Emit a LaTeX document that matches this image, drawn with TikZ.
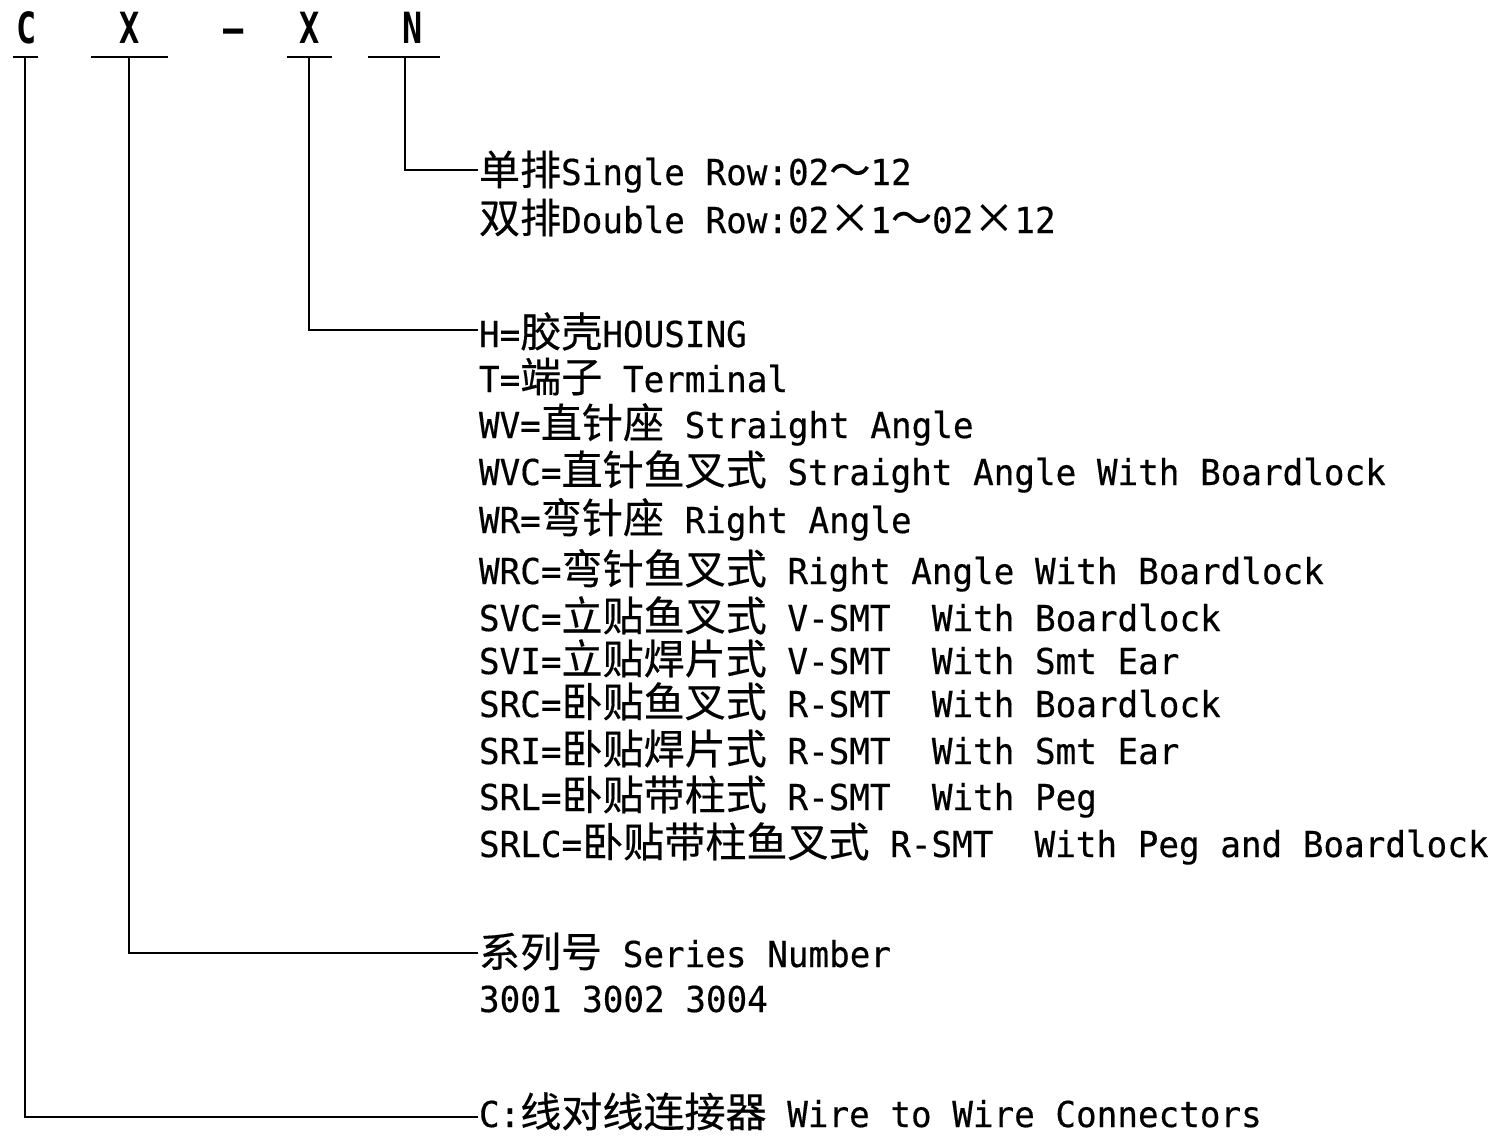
\documentclass[tikz,border=0pt]{standalone}
\usepackage{fontspec}
\setmainfont{DejaVu Sans Mono}[FakeStretch=0.96,FakeBold=0.4]
\newfontfamily\hdrfont{DejaVu Sans Mono Bold}[FakeStretch=0.78]
\newfontfamily\cjk{Noto Sans CJK SC}[Scale=1.15,FakeBold=0.4]
\newcommand{\zh}[1]{{\cjk #1}}
\begin{document}
\begin{tikzpicture}[x=1pt,y=-1pt,line width=2pt,
  txt/.style={anchor=base west,inner sep=0pt,font=\fontsize{35.7}{40}\selectfont},
  hdr/.style={anchor=base,inner sep=0pt,font=\hdrfont\fontsize{43}{44}\selectfont}]
\useasboundingbox (0,0) rectangle (1499,1136);
% header letters
\node[hdr] (hC)  at (27,43)  {C};
\node[hdr] (hX1) at (130,43) {X};
\node[hdr] (hD)  at (234,43) {–};
\node[hdr] (hX2) at (310,43) {X};
\node[hdr] (hN)  at (413,43) {N};
% underline points
\coordinate (uC)  at (25,56.7);
\coordinate (uX1) at (129.3,56.7);
\coordinate (uX2) at (309,56.7);
\coordinate (uN)  at (405,56.7);
\draw (12.7,56.7) -- (37.7,56.7);
\draw (90.7,56.7) -- (167.7,56.7);
\draw (286.7,56.7) -- (331.7,56.7);
\draw (368,56.7) -- (440,56.7);
% text rows
\node[txt] (n1) at (478,185) {\zh{单排}Single Row:02\zh{～}12};
\node[txt] (n2) at (478,233) {\zh{双排}Double Row:02\zh{×}1\zh{～}02\zh{×}12};
\node[txt] (h1) at (478,347) {H=\zh{胶壳}HOUSING};
\node[txt] (h2) at (478,392) {T=\zh{端子} Terminal};
\node[txt] (h3) at (478,438) {WV=\zh{直针座} Straight Angle};
\node[txt] (h4) at (478,485) {WVC=\zh{直针鱼叉式} Straight Angle With Boardlock};
\node[txt] (h5) at (478,533) {WR=\zh{弯针座} Right Angle};
\node[txt] (h6) at (478,584) {WRC=\zh{弯针鱼叉式} Right Angle With Boardlock};
\node[txt] (h7) at (478,631) {SVC=\zh{立贴鱼叉式} V-SMT\ \ With Boardlock};
\node[txt] (h8) at (478,674) {SVI=\zh{立贴焊片式} V-SMT\ \ With Smt Ear};
\node[txt] (h9) at (478,717) {SRC=\zh{卧贴鱼叉式} R-SMT\ \ With Boardlock};
\node[txt] (h10) at (478,764) {SRI=\zh{卧贴焊片式} R-SMT\ \ With Smt Ear};
\node[txt] (h11) at (478,810) {SRL=\zh{卧贴带柱式} R-SMT\ \ With Peg};
\node[txt] (h12) at (478,857) {SRLC=\zh{卧贴带柱鱼叉式} R-SMT\ \ With Peg and Boardlock};
\node[txt] (s1) at (478,967) {\zh{系列号} Series Number};
\node[txt] (s2) at (478,1012) {3001 3002 3004};
\node[txt] (c1) at (478,1127) {C:\zh{线对线连接器} Wire to Wire Connectors};
% connectors
\draw (uN)  |- ([yshift=15pt]n1.base west);
\draw (uX2) |- ([yshift=17pt]h1.base west);
\draw (uX1) |- ([yshift=14pt]s1.base west);
\draw (uC)  |- ([yshift=10pt]c1.base west);
\end{tikzpicture}
\end{document}
